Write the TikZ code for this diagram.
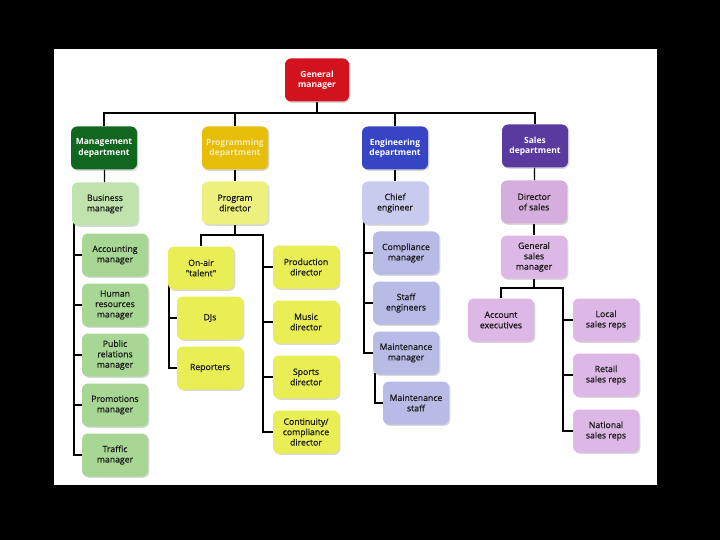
\documentclass[tikz,border=0pt]{standalone}
\usepackage{fontspec}
\setmainfont{Open Sans}
\newfontfamily\medfont{Open Sans}[FakeBold=0.6]
\usetikzlibrary{shadows,backgrounds}
\definecolor{gmred}{HTML}{D2121C}
\definecolor{mgreen}{HTML}{11671F}
\definecolor{mgreenA}{HTML}{C0E3AE}
\definecolor{mgreenB}{HTML}{A8D795}
\definecolor{pgold}{HTML}{E6BE0A}
\definecolor{ptext}{HTML}{F6EBB0}
\definecolor{pyelA}{HTML}{EEF07E}
\definecolor{pyelB}{HTML}{E9EE55}
\definecolor{eblue}{HTML}{3545C4}
\definecolor{elavA}{HTML}{C9CBEE}
\definecolor{elavB}{HTML}{B8BBE6}
\definecolor{spurple}{HTML}{5A3A9E}
\definecolor{slavA}{HTML}{D6AEDD}
\definecolor{slavB}{HTML}{DDB7E6}
\begin{document}
\begin{tikzpicture}[x=1pt,y=-1pt,
  box/.style={rounded corners=6pt, minimum width=66pt, minimum height=43pt, align=center,
    inner sep=1pt, font=\medfont\fontsize{8.7}{10.4}\selectfont, text=black!90,
    drop shadow={shadow xshift=1.3pt, shadow yshift=-1.3pt, opacity=0.25, fill=black!60}},
  dept/.style={box, font=\fontsize{8.5}{10.2}\selectfont\bfseries, text=white},
  conn/.style={draw=black, line width=1.2pt}]
\useasboundingbox (0,0) rectangle (720,540);
% top
\node[dept, fill=gmred, minimum width=64pt] (gm) at (317,80) {General\\manager};
\node[dept, fill=mgreen] (mgmt) at (104,148) {Management\\department};
\node[dept, fill=pgold, text=ptext] (prog) at (235,148) {Programming\\department};
\node[dept, fill=eblue] (eng) at (395,148) {Engineering\\department};
\node[dept, fill=spurple] (sales) at (535,146) {Sales\\department};
% level 2
\node[box, fill=mgreenA] (biz) at (105,204) {Business\\manager};
\node[box, fill=pyelA] (progdir) at (235,203) {Program\\director};
\node[box, fill=elavA] (chief) at (395,203) {Chief\\engineer};
\node[box, fill=slavA] (dirsales) at (534,202) {Director\\of sales};
% management
\node[box, fill=mgreenB] (acct) at (115,255) {Accounting\\manager};
\node[box, fill=mgreenB] (hr) at (115,305) {Human\\resources\\manager};
\node[box, fill=mgreenB] (pr) at (115,355) {Public\\relations\\manager};
\node[box, fill=mgreenB] (promo) at (115,405) {Promotions\\manager};
\node[box, fill=mgreenB] (traffic) at (115,455) {Traffic\\manager};
% programming
\node[box, fill=pyelB] (onair) at (201,268) {On-air\\"talent"};
\node[box, fill=pyelB] (djs) at (210,318) {DJs};
\node[box, fill=pyelB] (reporters) at (210,368) {Reporters};
\node[box, fill=pyelB] (production) at (306,267) {Production\\director};
\node[box, fill=pyelB] (music) at (306,322) {Music\\director};
\node[box, fill=pyelB] (sports) at (306,377) {Sports\\director};
\node[box, fill=pyelB] (continuity) at (306,432) {Continuity/\\compliance\\director};
% engineering
\node[box, fill=elavB] (compliance) at (406,253) {Compliance\\manager};
\node[box, fill=elavB] (staffeng) at (406,303) {Staff\\engineers};
\node[box, fill=elavB] (maintmgr) at (406,353) {Maintenance\\manager};
\node[box, fill=elavB] (maintstaff) at (416,403) {Maintenance\\staff};
% sales
\node[box, fill=slavB] (gensales) at (534,257) {General\\sales\\manager};
\node[box, fill=slavB] (account) at (501,320) {Account\\executives};
\node[box, fill=slavB] (local) at (606,320) {Local\\sales reps};
\node[box, fill=slavB] (retail) at (606,375) {Retail\\sales reps};
\node[box, fill=slavB] (national) at (606,431) {National\\sales reps};
% coordinates
\coordinate (bus) at (317,113);
\coordinate (pj) at (235,235);
\coordinate (pr0) at (263,235);
\coordinate (mline) at (74,222);
\coordinate (oal) at (169,283);
\coordinate (eline) at (364,220);
\coordinate (msline) at (375,373);
\coordinate (sj) at (534,288);
\coordinate (sr) at (563,288);
\begin{pgfonlayer}{background}
\fill[black] (0,0) rectangle (720,540);
\fill[white] (54,49) rectangle (657,485);
\draw[conn] (gm) -- (bus);
\draw[conn] (mgmt.north) |- (bus) -| (sales.north);
\draw[conn] (prog.north) -- (prog.north |- bus);
\draw[conn] (eng.north) -- (eng.north |- bus);
\draw[conn] (mgmt) -- (biz);
\draw[conn] (prog) -- (progdir);
\draw[conn] (eng) -- (chief);
\draw[conn] (sales) -- (dirsales);
% management
\draw[conn] (mline) |- (traffic.west);
\foreach \n in {acct,hr,pr,promo} \draw[conn] (\n.west) -- (\n.west -| mline);
% programming
\draw[conn] (progdir) -- (pj);
\draw[conn] (onair.north) |- (pr0) |- (continuity.west);
\foreach \n in {production,music,sports} \draw[conn] (\n.west) -- (\n.west -| pr0);
\draw[conn] (oal) |- (reporters.west);
\draw[conn] (djs.west) -- (djs.west -| oal);
% engineering
\draw[conn] (eline) |- (maintmgr.west);
\foreach \n in {compliance,staffeng} \draw[conn] (\n.west) -- (\n.west -| eline);
\draw[conn] (msline) |- (maintstaff.west);
% sales
\draw[conn] (dirsales) -- (gensales);
\draw[conn] (gensales) -- (sj);
\draw[conn] (account.north) |- (sr) |- (national.west);
\foreach \n in {local,retail} \draw[conn] (\n.west) -- (\n.west -| sr);
\end{pgfonlayer}
\end{tikzpicture}
\end{document}
